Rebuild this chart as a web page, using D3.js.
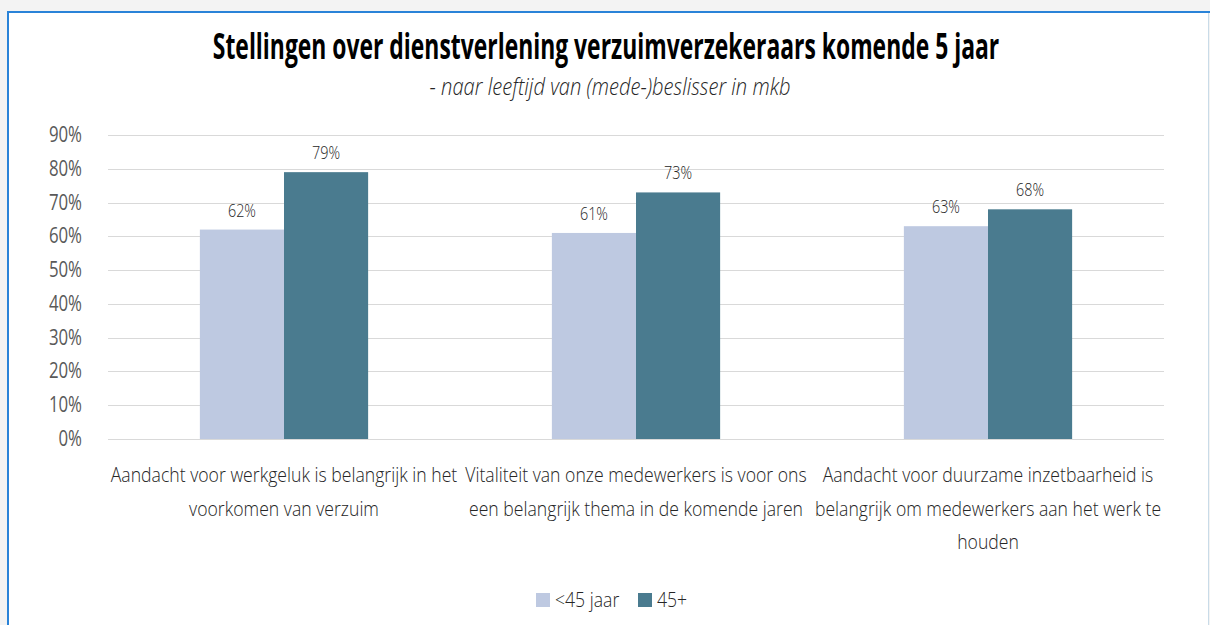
<!DOCTYPE html>
<html><head><meta charset="utf-8">
<script src="https://cdn.jsdelivr.net/npm/d3@7"></script>
<style>
html,body{margin:0;padding:0;background:#f3f3f3;}
svg{display:block;}
</style></head>
<body>
<svg id="chart" width="1210" height="625"></svg>
<script>
const categories = [
  ["Aandacht voor werkgeluk is belangrijk in het", "voorkomen van verzuim"],
  ["Vitaliteit van onze medewerkers is voor ons", "een belangrijk thema in de komende jaren"],
  ["Aandacht voor duurzame inzetbaarheid is", "belangrijk om medewerkers aan het werk te", "houden"]
];
const seriesNames = ["<45 jaar", "45+"];
const under45 = [0.62, 0.61, 0.63];
const over45 = [0.79, 0.73, 0.68];
const yTicks = [0, 0.1, 0.2, 0.3, 0.4, 0.5, 0.6, 0.7, 0.8, 0.9];
const colors = ["#BEC9E1", "#4A7B8F"];
const title = "Stellingen over dienstverlening verzuimverzekeraars komende 5 jaar";
const subtitle = "- naar leeftijd van (mede-)beslisser in mkb";

(function(){
const svg = d3.select("#chart");
const FONT = "Open Sans";
const K = 0.78;

svg.append("rect").attr("x", 7).attr("y", 11).attr("width", 1201).attr("height", 620).attr("fill", "#fff");
svg.append("line").attr("x1", 7).attr("x2", 1210).attr("y1", 12).attr("y2", 12).attr("stroke", "#2a83d8").attr("stroke-width", 2);
svg.append("line").attr("x1", 8).attr("x2", 8).attr("y1", 11).attr("y2", 625).attr("stroke", "#2a83d8").attr("stroke-width", 2);
svg.append("line").attr("x1", 1208.5).attr("x2", 1208.5).attr("y1", 13).attr("y2", 625).attr("stroke", "#c9dbe8").attr("stroke-width", 1);

function txt(parent, x, y, s, o) {
  const k = o.k || K;
  return parent.append("text")
    .attr("transform", `translate(${x},${y}) scale(${k},1)`)
    .attr("text-anchor", o.anchor || "middle")
    .attr("font-family", FONT)
    .attr("font-size", o.size)
    .attr("font-weight", o.weight || "normal")
    .attr("font-style", o.style || "normal")
    .attr("fill", o.fill || "#404040")
    .text(s);
}

txt(svg, 606, 59, title, {size: 36, weight: "bold", fill: "#000", k: 0.636});
txt(svg, 610, 95, subtitle, {size: 24, weight: 300, style: "italic", fill: "#262626", k: 0.84});

const pl = 108, pr = 1164, pt = 135, pb = 439;
const x0 = d3.scaleBand().domain(d3.range(categories.length)).range([pl, pr]).padding(0);
const y = d3.scaleLinear().domain([0, 0.9]).range([pb, pt]);
const grpW = x0.bandwidth() * 0.478;
const x1 = d3.scaleBand().domain(seriesNames).range([(x0.bandwidth() - grpW) / 2, (x0.bandwidth() + grpW) / 2]).padding(0);

svg.append("g").selectAll("line").data(yTicks).join("line")
  .attr("x1", pl).attr("x2", pr)
  .attr("y1", d => Math.round(y(d)) + 0.5).attr("y2", d => Math.round(y(d)) + 0.5)
  .attr("stroke", "#d9d9d9").attr("stroke-width", 1);

const yl = svg.append("g");
yTicks.forEach(t => txt(yl, 82, y(t) + 7, d3.format(".0%")(t), {size: 21, anchor: "end", fill: "#595959", k: 0.8}));

const data = categories.map((c, i) => ({i, vals: [under45[i], over45[i]]}));
const groups = svg.append("g").selectAll("g").data(data).join("g")
  .attr("transform", d => `translate(${x0(d.i)},0)`);
groups.selectAll("rect").data(d => d.vals.map((v, j) => ({v, s: seriesNames[j], j}))).join("rect")
  .attr("x", d => x1(d.s)).attr("width", x1.bandwidth())
  .attr("y", d => y(d.v)).attr("height", d => y(0) - y(d.v))
  .attr("fill", d => colors[d.j]);
groups.each(function(d) {
  const g = d3.select(this);
  d.vals.forEach((v, j) => {
    txt(g, x1(seriesNames[j]) + x1.bandwidth() / 2, y(v) - 13, d3.format(".0%")(v), {size: 18, weight: 300, fill: "#262626", k: 0.8});
  });
});

categories.forEach((lines, i) => {
  lines.forEach((ln, li) => {
    txt(svg, x0(i) + x0.bandwidth() / 2, 482 + li * 33.5, ln, {size: 21, weight: 300, fill: "#262626", k: 0.84});
  });
});

const lg = svg.append("g");
const lx = [536, 638];
seriesNames.forEach((s, j) => {
  lg.append("rect").attr("x", lx[j]).attr("y", 593).attr("width", 14).attr("height", 14).attr("fill", colors[j]);
  txt(lg, lx[j] + 19, 607, s, {size: 21, weight: 300, anchor: "start", fill: "#262626", k: 0.84});
});
})();
</script>
</body></html>
